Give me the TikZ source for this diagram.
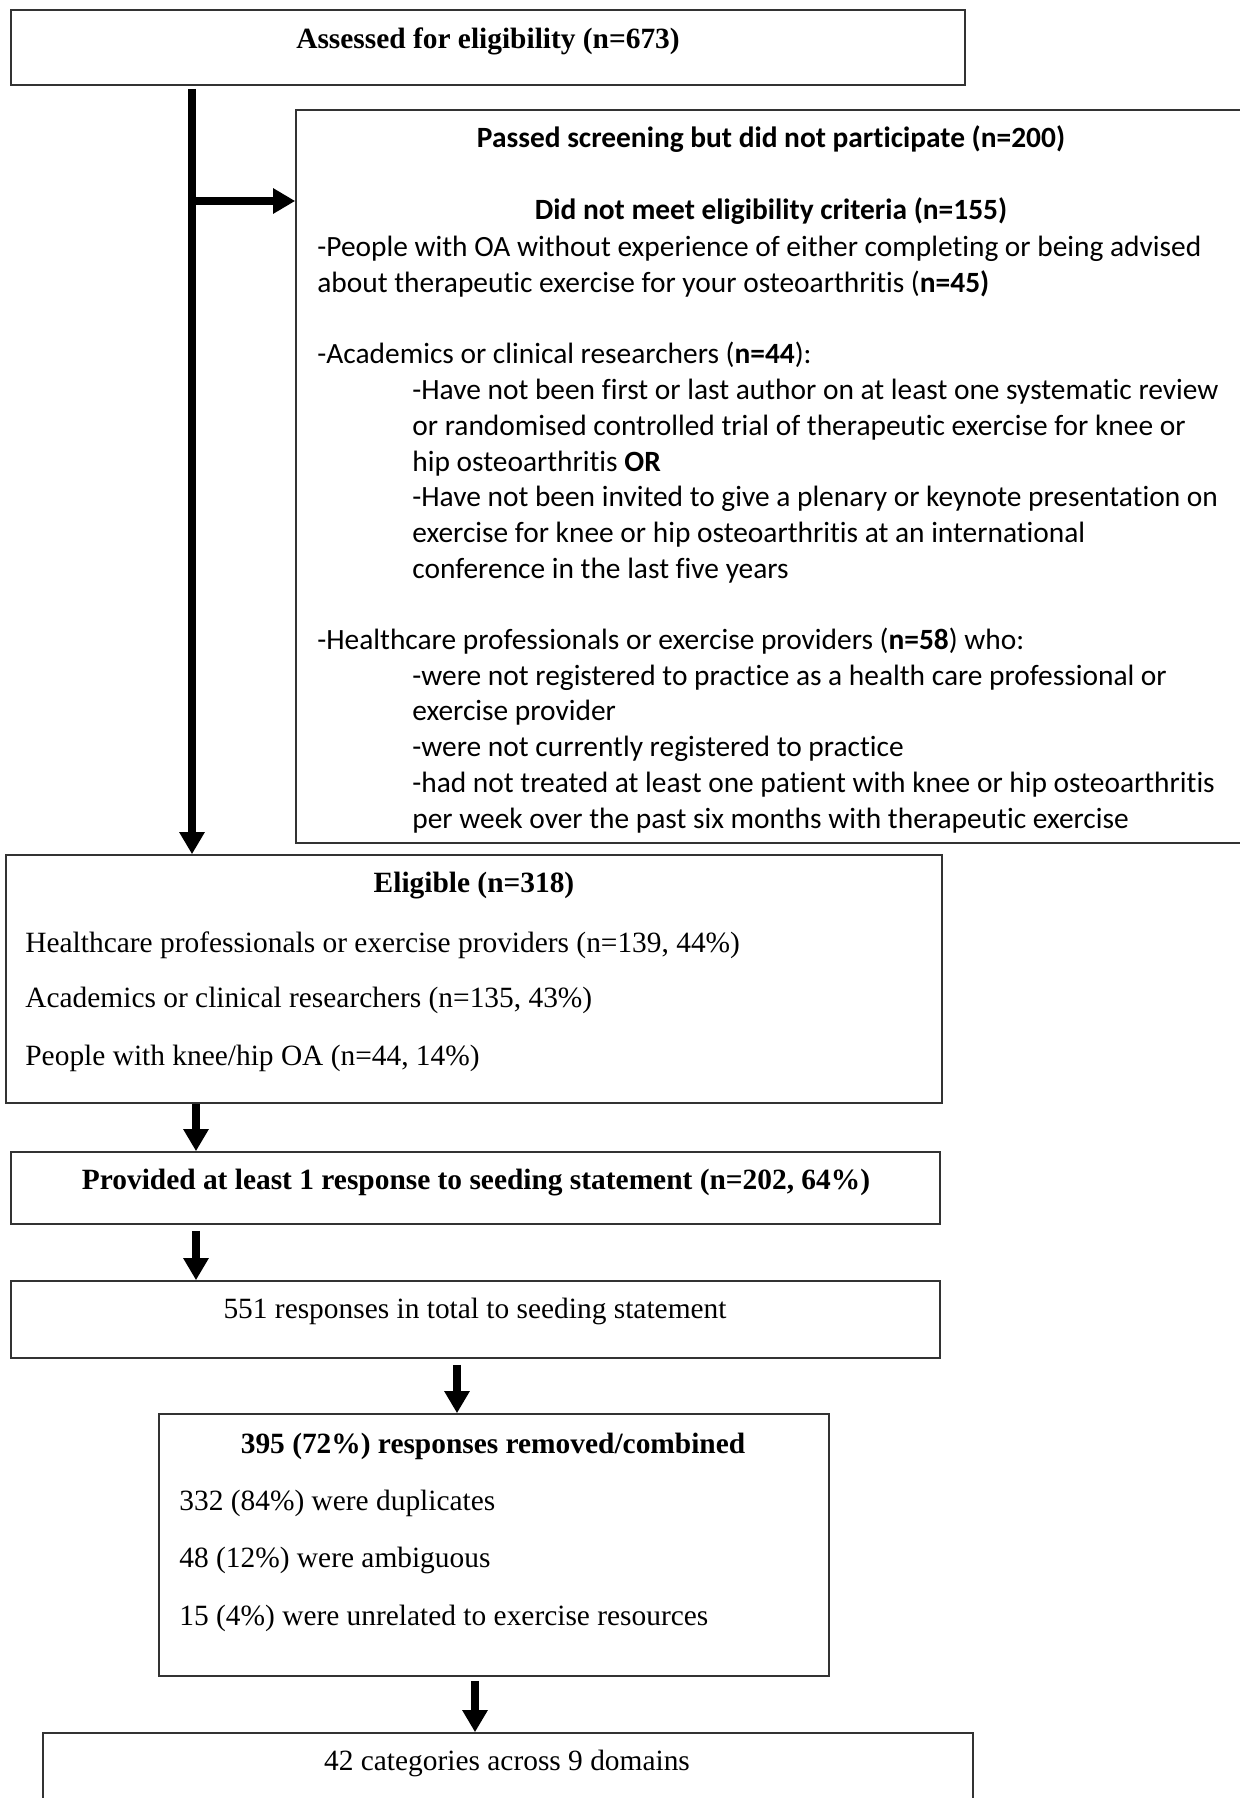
\documentclass[tikz,border=0pt]{standalone}
\usepackage{fontspec}
\setmainfont{Liberation Serif}
\newfontfamily\calibrifont[Ligatures=NoCommon]{Carlito}
\usepackage{tikz}
\usetikzlibrary{positioning,arrows.meta,calc}

\begin{document}
\begin{tikzpicture}[
        x=0.5pt, y=-0.5pt,
        box/.style={rectangle, draw=black!80, line width=0.8pt, inner sep=0pt},
        plain/.style={font=\fontsize{14.7}{17.5}\selectfont, inner sep=0pt},
        title/.style={font=\fontsize{14.7}{17.5}\selectfont\bfseries, inner sep=0pt},
        entry/.style={plain, anchor=west},
        crithead/.style={font=\fontsize{14.7}{17.85}\selectfont\calibrifont\bfseries, inner sep=0pt},
        criteria/.style={font=\fontsize{14.7}{17.85}\selectfont\calibrifont, inner sep=0pt, anchor=north west, align=left},
        flow/.style={line width=4pt, -{Triangle[width=12pt,length=11pt]}}
    ]
        \useasboundingbox (0,0) rectangle (1239,1798);

        % Assessed
        \node (assessbox) at (488,47.5) [box, minimum width=477pt, minimum height=37.5pt] {};
        \node (assessed) at (488,41) [title] {Assessed for eligibility (n=673)};

        % Excluded
        \node (exclbox) at (773,476.5) [box, minimum width=477pt, minimum height=366.5pt] {};
        \node (passed) at (771,139) [crithead] {Passed screening but did not participate (n=200)};
        \node (notmet) at (771,211) [crithead] {Did not meet eligibility criteria (n=155)};
        \node (reasons) at (317,236) [criteria] {-People with OA without experience of either completing or being advised\\
            about therapeutic exercise for your osteoarthritis (\textbf{n=45)}\\[17.85pt]
            -Academics or clinical researchers (\textbf{n=44}):\\
            \hspace*{47.5pt}-Have not been first or last author on at least one systematic review\\
            \hspace*{47.5pt}or randomised controlled trial of therapeutic exercise for knee or\\
            \hspace*{47.5pt}hip osteoarthritis \textbf{OR}\\
            \hspace*{47.5pt}-Have not been invited to give a plenary or keynote presentation on\\
            \hspace*{47.5pt}exercise for knee or hip osteoarthritis at an international\\
            \hspace*{47.5pt}conference in the last five years\\[17.85pt]
            -Healthcare professionals or exercise providers (\textbf{n=58}) who:\\
            \hspace*{47.5pt}-were not registered to practice as a health care professional or\\
            \hspace*{47.5pt}exercise provider\\
            \hspace*{47.5pt}-were not currently registered to practice\\
            \hspace*{47.5pt}-had not treated at least one patient with knee or hip osteoarthritis\\
            \hspace*{47.5pt}per week over the past six months with therapeutic exercise};

        % Eligible
        \node (eligbox) at (474,979) [box, minimum width=468pt, minimum height=124pt] {};
        \node (eligible) at (474,886) [title] {Eligible (n=318)};
        \node (hcp) at (25,945) [entry] {Healthcare professionals or exercise providers (n=139, 44\%)};
        \node (acad) at (25,1000) [entry] {Academics or clinical researchers (n=135, 43\%)};
        \node (people) at (25,1058) [entry] {People with knee/hip OA (n=44, 14\%)};

        % Responses
        \node (respbox) at (475.5,1188) [box, minimum width=464.5pt, minimum height=36pt] {};
        \node (responded) at (476,1183) [title] {Provided at least 1 response to seeding statement (n=202, 64\%)};
        \node (totalbox) at (475.5,1319.5) [box, minimum width=464.5pt, minimum height=38.5pt] {};
        \node (total) at (475,1311) [plain] {551 responses in total to seeding statement};

        % Removed
        \node (removedbox) at (494,1545) [box, minimum width=335pt, minimum height=131pt] {};
        \node (removed) at (493,1446) [title] {395 (72\%) responses removed/combined};
        \node (dupl) at (179,1503) [entry] {332 (84\%) were duplicates};
        \node (ambig) at (179,1560) [entry] {48 (12\%) were ambiguous};
        \node (unrel) at (179,1618) [entry] {15 (4\%) were unrelated to exercise resources};

        % Categories
        \node (catbox) at (508,1771.5) [box, minimum width=465pt, minimum height=38.5pt] {};
        \node (categories) at (507,1763) [plain] {42 categories across 9 domains};

        % Arrows
        \coordinate (trunk) at (192,89);
        \coordinate (branch) at (192,201);
        \coordinate (lane) at (196,0);
        \coordinate (midlane) at (457,0);
        \coordinate (lowlane) at (475,0);
        \draw[flow] (trunk) -- (trunk |- eligbox.north);
        \draw[flow] (branch) -- (branch -| exclbox.west);
        \draw[flow] (eligbox.south -| lane) -- (respbox.north -| lane);
        \draw[flow] ($(respbox.south -| lane)+(0,6)$) -- (totalbox.north -| lane);
        \draw[flow] ($(totalbox.south -| midlane)+(0,6)$) -- (removedbox.north -| midlane);
        \draw[flow] ($(removedbox.south -| lowlane)+(0,4)$) -- (catbox.north -| lowlane);
    \end{tikzpicture}
\end{document}
